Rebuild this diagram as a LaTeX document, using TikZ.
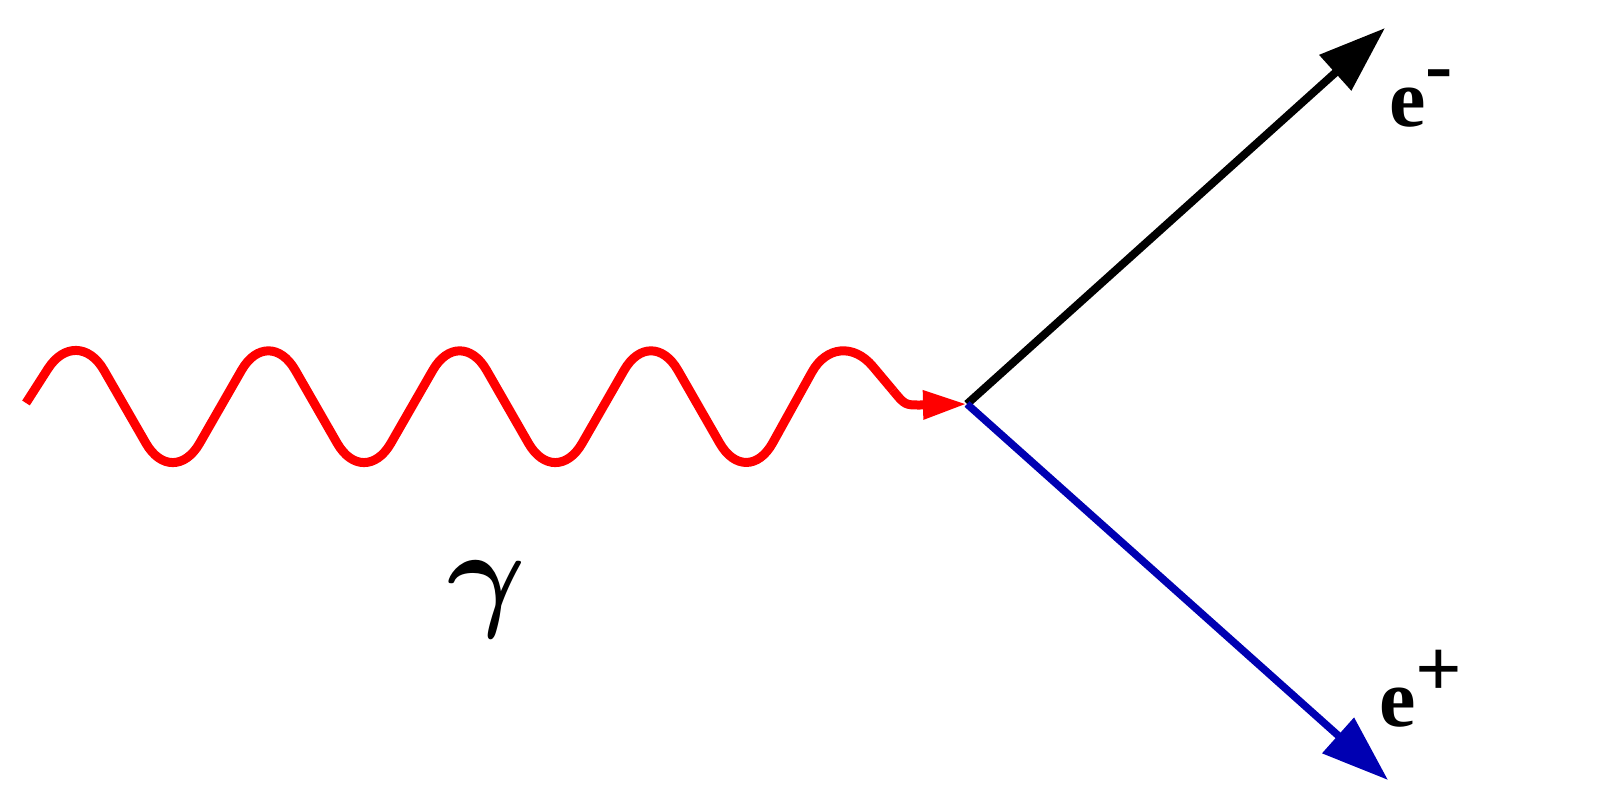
\documentclass[tikz,border=0pt]{standalone}
\usepackage{graphicx}
\usepackage{bm}
\usepackage{fontspec}
\setmainfont{Liberation Serif}
\usetikzlibrary{arrows.meta}
\definecolor{pblue}{RGB}{0,0,178}
\begin{document}
\begin{tikzpicture}[x=1pt,y=-1pt,
  wave/.style={red, line width=9pt},
  lepton/.style={line width=8pt, -{Triangle[length=67pt,width=46pt]}},
  lbl/.style={inner sep=0pt, anchor=base west, font=\fontsize{82}{98}\selectfont\bfseries}]
\useasboundingbox (0,0) rectangle (1600,803);
\coordinate (g0) at (26,403);
\coordinate (g1) at (893,390.5);
\coordinate (v) at (967,404);
\coordinate (em) at (1385,28);
\coordinate (ep) at (1388,780);
% photon
\draw[wave, rounded corners=54pt] (g0) -- (77,323.4) -- (172.8,490) -- (268.4,323.4) -- (364,490)
  -- (459.7,323.4) -- (555.3,490) -- (651,323.4) -- (746.6,490) -- (838,325) -- (g1);
\draw[wave, -{Triangle[length=44pt,width=27pt]}] (g1) .. controls (905,405) .. (920,405) -- (v);
% leptons
\draw[lepton, black] (v) -- (em);
\draw[lepton, pblue, line width=7.5pt] (v) -- (ep);
% labels
\node[lbl] (lem) at (1389,126) {e\raisebox{34pt}{-}};
\node[lbl] (lep) at (1379,726) {e\raisebox{30pt}{+}};
\node[inner sep=0pt, anchor=base west] (lg) at (447,614) {\scalebox{12}{$\bm{\gamma}$}};
\end{tikzpicture}
\end{document}
